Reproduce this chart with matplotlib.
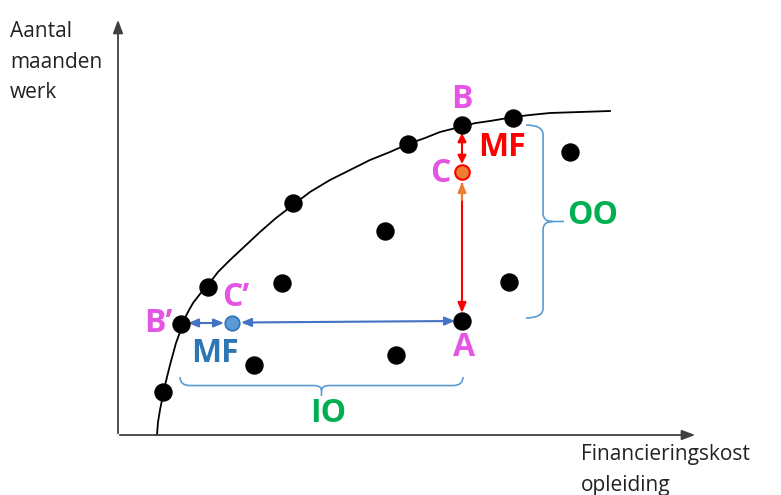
import matplotlib.pyplot as plt
from matplotlib.path import Path
from matplotlib.patches import PathPatch

# scattered observations (picture coordinates, y downwards)
dots_x = [163, 181, 208, 293, 408, 462, 513, 570, 385, 282, 509, 254, 396, 462]
dots_y = [392, 324, 287, 203, 144, 125, 118, 152, 231, 283, 282, 365, 355, 321]

# frontier curve
curve_x = [157, 158, 160, 162, 164, 167, 170, 173, 176, 180, 183, 188, 193, 200, 208, 218, 230, 245,
           260, 276, 293, 310, 330, 350, 370, 390, 408, 425, 440, 452, 462, 476, 490, 502, 513, 530,
           550, 565, 580, 595, 610]
curve_y = [435, 422, 410, 400, 390, 377, 365, 354, 343, 332, 322, 312, 303, 294, 285, 272, 260, 246,
           232, 218, 205, 192, 180, 170, 160, 152, 144, 138, 132, 129, 126, 123, 121, 119, 117, 115,
           113, 112.5, 112, 111.5, 111]

pt_C = (462, 172)
pt_C2 = (232, 323)

magenta = '#E455E4'
green = '#00B050'
red = '#FF0000'
blue = '#4472C4'
brace_col = '#5B9BD5'

fig = plt.figure(figsize=(7.81, 4.95), dpi=100)
ax = fig.add_axes([0, 0, 1, 1])
ax.set_xlim(0, 781)
ax.set_ylim(495, 0)
ax.axis('off')

# axes arrows
ax.annotate('', xy=(118, 17), xytext=(118, 436),
            arrowprops=dict(arrowstyle='-|>,head_length=0.8,head_width=0.3', color='#404040', lw=1.3))
ax.annotate('', xy=(698, 435), xytext=(117, 435),
            arrowprops=dict(arrowstyle='-|>,head_length=0.8,head_width=0.3', color='#404040', lw=1.3))

ax.plot(curve_x, curve_y, color='black', lw=1.3, zorder=2)
ax.scatter(dots_x, dots_y, s=150, color='black', zorder=4)

# arrows
ax.annotate('', xy=(462, 133), xytext=(462, 164),
            arrowprops=dict(arrowstyle='<|-|>,head_length=0.5,head_width=0.25', color=red, lw=1.5,
                            shrinkA=0, shrinkB=0))
ax.annotate('', xy=(462, 313), xytext=(462, 184),
            arrowprops=dict(arrowstyle='-|>,head_length=0.6,head_width=0.25', color=red, lw=1.5,
                            shrinkA=0, shrinkB=0))
ax.annotate('', xy=(462, 182), xytext=(462, 200),
            arrowprops=dict(arrowstyle='-|>,head_length=0.6,head_width=0.25', color='#ED7D31', lw=1.5,
                            shrinkA=0, shrinkB=0))
ax.annotate('', xy=(188, 323), xytext=(224, 323),
            arrowprops=dict(arrowstyle='<|-|>,head_length=0.6,head_width=0.25', color=blue, lw=1.5,
                            shrinkA=0, shrinkB=0))
ax.annotate('', xy=(241, 322.5), xytext=(455, 321),
            arrowprops=dict(arrowstyle='<|-|>,head_length=0.6,head_width=0.25', color=blue, lw=1.5,
                            shrinkA=0, shrinkB=0))

ax.scatter([pt_C[0]], [pt_C[1]], s=110, color='#ED7D31', edgecolor=red, linewidth=1.5, zorder=5)
ax.scatter([pt_C2[0]], [pt_C2[1]], s=110, color='#5B9BD5', edgecolor='#2E75B6', linewidth=1.2, zorder=5)


def brace_v(x, y0, y1, w):
    ym = (y0 + y1) / 2
    m = x + w * 0.45
    verts = [(x, y0), (m, y0), (m, y0 + 10),
             (m, ym - 8),
             (m, ym), (x + w * 0.7, ym), (x + w, ym),
             (x + w * 0.7, ym), (m, ym), (m, ym + 8),
             (m, y1 - 10),
             (m, y1), (x, y1)]
    codes = [Path.MOVETO, Path.CURVE3, Path.CURVE3,
             Path.LINETO,
             Path.CURVE3, Path.CURVE3, Path.LINETO,
             Path.MOVETO, Path.CURVE3, Path.CURVE3,
             Path.LINETO,
             Path.CURVE3, Path.CURVE3]
    return Path(verts, codes)


def brace_h(y, x0, x1, h):
    p = brace_v(0, x0, x1, h)
    return Path([(v[1], y + v[0]) for v in p.vertices], p.codes)


ax.add_patch(PathPatch(brace_v(526, 125, 318, 38), fill=False, edgecolor=brace_col, lw=1.2))
ax.add_patch(PathPatch(brace_h(377, 180, 463, 19), fill=False, edgecolor=brace_col, lw=1.2))

lab = dict(fontfamily='Open Sans', fontweight='bold', fontsize=23, ha='center', va='center')
ax.text(462, 100, 'B', color=magenta, **lab)
ax.text(502, 147, 'MF', color=red, **lab)
ax.text(440, 174, 'C', color=magenta, **lab)
ax.text(593, 216, 'OO', color=green, **lab)
ax.text(236, 297, 'C\u2019', color=magenta, **lab)
ax.text(158, 323, 'B\u2019', color=magenta, **lab)
ax.text(215, 354, 'MF', color='#2E75B6', **lab)
ax.text(464, 347, 'A', color=magenta, **lab)
ax.text(328, 414, 'IO', color=green, **lab)

txt = dict(fontfamily='Open Sans', fontsize=15, color='#222222', ha='left', va='top', linespacing=1.6)
ax.text(10, 21, 'Aantal\nmaanden\nwerk', **txt)
ax.text(581, 444, 'Financieringskost\nopleiding', **txt)

fig.savefig('out.png', dpi=100)
